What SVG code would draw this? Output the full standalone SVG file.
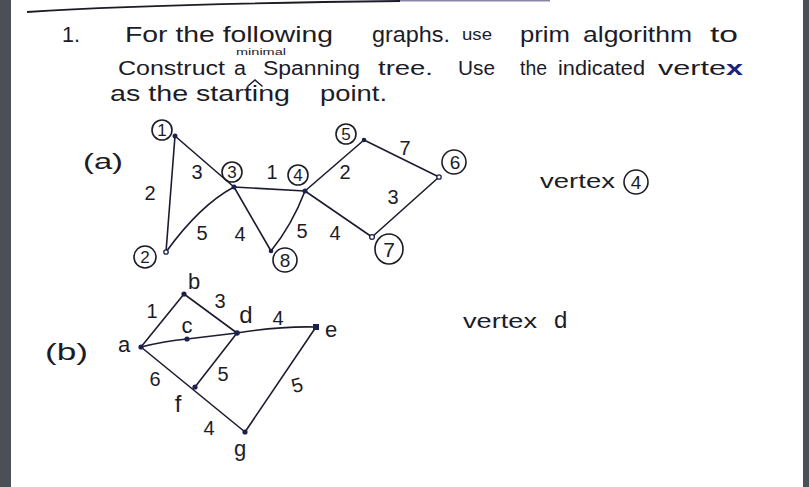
<svg xmlns="http://www.w3.org/2000/svg" width="809" height="487" viewBox="0 0 809 487">
<defs>
<style>
.t{font-family:"Liberation Sans","DejaVu Sans",sans-serif;fill:#1c1c28;font-size:22px}
.l2{font-size:19.5px}
.s{font-size:20px}
.n{font-size:17px}
.m{text-anchor:middle}
.e{stroke:#1c1c30;stroke-width:1.6;fill:none;stroke-linecap:round}
.d{fill:#1c2050}
.o{fill:#fff;stroke:#1c2050;stroke-width:1.3}
.c{fill:none;stroke:#1c1c28;stroke-width:1.6}
</style>
</defs>
<rect width="809" height="487" fill="#fff"/>
<rect x="0" y="0" width="11" height="487" fill="#4b5056"/>
<rect x="803" y="0" width="6" height="487" fill="#4b5056"/>
<path d="M27,12 Q150,4 400,1" stroke="#1c1c28" stroke-width="1.8" fill="none"/>
<rect x="400" y="0" width="150" height="1.5" fill="#8a86a8"/>

<g id="title">
<text class="t" x="62" y="42" textLength="18" lengthAdjust="spacingAndGlyphs">1.</text>
<text class="t" x="125" y="42" textLength="208" lengthAdjust="spacingAndGlyphs">For the following</text>
<text class="t" x="372" y="42" textLength="78" lengthAdjust="spacingAndGlyphs">graphs.</text>
<text class="t" x="462" y="40" style="font-size:16px" textLength="30" lengthAdjust="spacingAndGlyphs">use</text>
<text class="t" x="520" y="42" textLength="50" lengthAdjust="spacingAndGlyphs">prim</text>
<text class="t" x="583" y="42" textLength="109" lengthAdjust="spacingAndGlyphs">algorithm</text>
<text class="t" x="710" y="42" textLength="28" lengthAdjust="spacingAndGlyphs">to</text>
<text class="t l2" x="118" y="75" textLength="107" lengthAdjust="spacingAndGlyphs">Construct</text>
<text class="t l2" x="234" y="75" textLength="12" lengthAdjust="spacingAndGlyphs">a</text>
<text class="t" x="236" y="55" style="font-size:8.8px" textLength="50" lengthAdjust="spacingAndGlyphs">minimal</text>
<path class="e" d="M248,86 L255,80 L262,86"/>
<text class="t l2" x="263" y="75" textLength="97" lengthAdjust="spacingAndGlyphs">Spanning</text>
<text class="t l2" x="378" y="75" textLength="55" lengthAdjust="spacingAndGlyphs">tree.</text>
<text class="t l2" x="458" y="75" textLength="37" lengthAdjust="spacingAndGlyphs">Use</text>
<text class="t l2" x="520" y="75" textLength="27" lengthAdjust="spacingAndGlyphs">the</text>
<text class="t l2" x="558" y="75" textLength="87" lengthAdjust="spacingAndGlyphs">indicated</text>
<text class="t l2" x="658" y="75" textLength="85" lengthAdjust="spacingAndGlyphs">verte<tspan fill="#1a237e" font-weight="bold">x</tspan></text>
<text class="t" x="110" y="101" textLength="180" lengthAdjust="spacingAndGlyphs">as the starting</text>
<text class="t" x="320" y="101" textLength="67" lengthAdjust="spacingAndGlyphs">point.</text>
</g>

<g id="connectors-a">
<line class="e" x1="175" y1="136" x2="166" y2="252"/>
<line class="e" x1="175" y1="136" x2="234" y2="187"/>
<path class="e" d="M166,252 Q200,205 234,187"/>
<line class="e" x1="234" y1="187" x2="305" y2="191"/>
<line class="e" x1="234" y1="187" x2="271" y2="251"/>
<path class="e" d="M271,251 Q292,225 305,191"/>
<line class="e" x1="305" y1="191" x2="364" y2="140"/>
<line class="e" x1="364" y1="140" x2="439" y2="177"/>
<line class="e" x1="439" y1="177" x2="372" y2="237"/>
<line class="e" x1="305" y1="191" x2="372" y2="237"/>
</g>

<g id="edge-labels-a">
<text class="t s m" x="150" y="200">2</text>
<text class="t s m" x="197" y="179">3</text>
<text class="t s m" x="272" y="179">1</text>
<text class="t s m" x="345" y="179">2</text>
<text class="t s m" x="405" y="155">7</text>
<text class="t s m" x="393" y="204">3</text>
<text class="t s m" x="202" y="240">5</text>
<text class="t s m" x="240" y="241">4</text>
<text class="t s m" x="302" y="238">5</text>
<text class="t s m" x="335" y="240">4</text>
</g>

<text class="t" x="83" y="169" textLength="40" lengthAdjust="spacingAndGlyphs">(a)</text>

<g id="node-1"><circle class="c" cx="162" cy="130" r="10"/><text class="t m n" x="162" y="136">1</text><circle class="d" cx="175" cy="136" r="2.5"/></g>
<g id="node-2"><circle class="c" cx="145" cy="257" r="11"/><text class="t m n" x="145" y="263">2</text><circle class="o" cx="166" cy="252" r="2.2"/></g>
<g id="node-3"><circle class="c" cx="232" cy="172" r="10"/><text class="t m n" x="232" y="178">3</text><circle class="d" cx="234" cy="187" r="2.5"/></g>
<g id="node-4"><circle class="c" cx="298" cy="175" r="10"/><text class="t m n" x="298" y="181">4</text><circle class="d" cx="305" cy="191" r="2.5"/></g>
<g id="node-5"><circle class="c" cx="346" cy="134" r="10"/><text class="t m n" x="346" y="140">5</text><circle class="d" cx="364" cy="140" r="2.3"/></g>
<g id="node-6"><circle class="c" cx="454" cy="162" r="12"/><text class="t m" x="455" y="169" style="font-size:19px">6</text><circle class="o" cx="439" cy="177" r="2.2"/></g>
<g id="node-7"><ellipse class="c" cx="389" cy="249" rx="14" ry="15"/><text class="t m" x="389" y="257" style="font-size:21px">7</text><circle class="o" cx="372" cy="237" r="2.4"/></g>
<g id="node-8"><circle class="c" cx="285" cy="260" r="12"/><text class="t m" x="285" y="267" style="font-size:19px">8</text><circle class="d" cx="271" cy="251" r="2.3"/></g>

<g id="start-a">
<text class="t s" x="540" y="188" textLength="75" lengthAdjust="spacingAndGlyphs">vertex</text>
<circle class="c" cx="636" cy="182" r="12"/>
<text class="t m" x="636" y="189" style="font-size:19px">4</text>
</g>

<g id="connectors-b">
<line class="e" x1="141" y1="347" x2="184" y2="294"/>
<line class="e" x1="184" y1="294" x2="237" y2="333"/>
<path class="e" d="M141,347 Q165,341 187,339"/>
<line class="e" x1="187" y1="339" x2="237" y2="333"/>
<path class="e" d="M237,333 Q280,326 316,327"/>
<line class="e" x1="141" y1="347" x2="245" y2="432"/>
<line class="e" x1="237" y1="333" x2="195" y2="387"/>
<line class="e" x1="316" y1="327" x2="245" y2="432"/>
</g>

<g id="edge-labels-b">
<text class="t s m" x="152" y="318">1</text>
<text class="t s m" x="220" y="308">3</text>
<text class="t s m" x="278" y="325">4</text>
<text class="t s m" x="155" y="386">6</text>
<text class="t s m" x="223" y="381">5</text>
<text class="t s m" x="297" y="392" transform="rotate(-15 297 385)">5</text>
<text class="t s m" x="209" y="435">4</text>
</g>

<text class="t" x="45" y="360" style="font-size:24px" textLength="43" lengthAdjust="spacingAndGlyphs">(b)</text>

<g id="node-a"><circle class="d" cx="141" cy="347" r="2.6"/><text class="t m" x="124" y="352">a</text></g>
<g id="node-b"><circle class="d" cx="184" cy="294" r="2.6"/><text class="t m" x="194" y="289">b</text></g>
<g id="node-c"><circle class="d" cx="187" cy="339" r="2.6"/><text class="t m" x="187" y="333">c</text></g>
<g id="node-d"><circle class="d" cx="237" cy="333" r="2.8"/><text class="t m" x="246" y="323" style="font-size:24px">d</text></g>
<g id="node-e"><rect class="d" x="313" y="324" width="6" height="6"/><text class="t m" x="331" y="337">e</text></g>
<g id="node-f"><circle class="d" cx="195" cy="387" r="2.6"/><text class="t m" x="178" y="412" style="font-size:24px">f</text></g>
<g id="node-g"><circle class="d" cx="245" cy="432" r="2.6"/><text class="t m" x="240" y="456">g</text></g>

<g id="start-b">
<text class="t s" x="463" y="328" textLength="74" lengthAdjust="spacingAndGlyphs">vertex</text>
<text class="t" x="554" y="328" style="font-size:24px">d</text>
</g>
</svg>
